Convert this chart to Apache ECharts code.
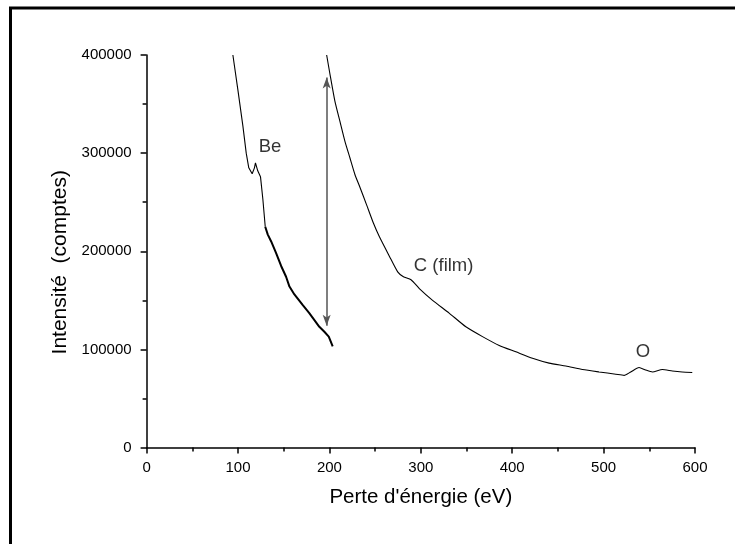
<!DOCTYPE html>
<html>
<head>
<meta charset="utf-8">
<script src="https://cdn.jsdelivr.net/npm/echarts@6/dist/echarts.min.js"></script>
<style>html,body{margin:0;padding:0;background:#fff}#c{width:735px;height:544px}</style>
</head>
<body>
<div id="c"></div>
<script>
// Energy loss (eV) and intensity (counts)
var beUpperX = [94.4, 99.8, 105.3, 109, 111.8, 115.5, 118, 119.1, 121.6, 124.6, 127.2, 129.8];
var beUpperY = [400000, 365000, 328000, 300000, 285000, 279000, 285000, 290000, 282000, 276000, 253000, 225000];
var beLowerX = [129.8, 132.6, 136.3, 141.7, 147.2, 152.6, 156.3, 161.7, 170.9, 178, 189, 194.5, 199.3, 203.6];
var beLowerY = [225000, 217000, 210000, 198000, 185000, 174000, 164000, 156000, 145000, 137000, 123000, 118000, 113000, 103000];
var cX = [197, 200.7, 206, 211.6, 217, 222.5, 228, 233.5, 240.8, 248, 254.6, 265.6, 274.7, 281, 289.3, 298.4, 312.9, 331, 349.3, 367.5, 385.8, 404, 422.2, 440.4, 458.7, 476.9, 495, 513.3, 522.4, 529.7, 538.8, 546, 553.4, 564.3, 575.2, 586, 597];
var cY = [400000, 380000, 353000, 332000, 312000, 295000, 278000, 265000, 247000, 229000, 215000, 195000, 179000, 174000, 171000, 162000, 150000, 137000, 123000, 113000, 104000, 97500, 91000, 86000, 83000, 79500, 77000, 74700, 73500, 77000, 81500, 79000, 77000, 79500, 78000, 77000, 76500];
var arrowX = 197;
var arrowY = [124000, 377000];
var labelText = ["Be", "C (film)", "O"];
var labelX = [135, 325, 543];
var labelY = [306000, 185000, 97000];
var xTitle = "Perte d'énergie (eV)";
var yTitle = "Intensité  (comptes)";

function zip(a, b) { return a.map(function (v, i) { return [v, b[i]]; }); }

var chart = echarts.init(document.getElementById('c'), null, {renderer: 'canvas'});
var font = '"Liberation Sans", Arial, sans-serif';
chart.setOption({
  animation: false,
  backgroundColor: '#fff',
  grid: {left: 146.6, right: 40, top: 55, bottom: 96.5, containLabel: false},
  xAxis: {
    type: 'value', min: 0, max: 600, interval: 100,
    name: xTitle, nameLocation: 'middle', nameGap: 39,
    nameTextStyle: {fontFamily: font, fontSize: 20.5, color: '#000'},
    axisLine: {show: true, onZero: false, lineStyle: {color: '#000', width: 1.5}},
    axisTick: {show: true, inside: false, length: 6, lineStyle: {color: '#000', width: 1.5}},
    minorTick: {show: true, splitNumber: 2, length: 4, lineStyle: {color: '#000', width: 1.5}},
    axisLabel: {fontFamily: font, fontSize: 15, color: '#000', margin: 13,
                formatter: function (v) { return String(v); }},
    splitLine: {show: false}
  },
  yAxis: {
    type: 'value', min: 0, max: 400000, interval: 100000,
    name: yTitle, nameLocation: 'middle', nameGap: 75,
    nameTextStyle: {fontFamily: font, fontSize: 21, color: '#000', padding: [0, 22, 0, 0]},
    axisLine: {show: true, onZero: false, lineStyle: {color: '#000', width: 1.5}},
    axisTick: {show: true, inside: false, length: 6, lineStyle: {color: '#000', width: 1.5}},
    minorTick: {show: true, splitNumber: 2, length: 4, lineStyle: {color: '#000', width: 1.5}},
    axisLabel: {fontFamily: font, fontSize: 15, color: '#000', margin: 15,
                formatter: function (v) { return String(v); }},
    splitLine: {show: false}
  },
  graphic: [{
    type: 'rect', shape: {x: 10.5, y: 8, width: 900, height: 900},
    style: {fill: 'none', stroke: '#000', lineWidth: 3}, silent: true
  }],
  series: [
    {type: 'line', data: zip(beUpperX, beUpperY), showSymbol: false, clip: true,
     lineStyle: {color: '#000', width: 1.1}},
    {type: 'line', data: zip(beLowerX, beLowerY), showSymbol: false, clip: true,
     lineStyle: {color: '#000', width: 2}},
    {type: 'line', data: zip(cX, cY), showSymbol: false, clip: true, smooth: 0.2,
     lineStyle: {color: '#000', width: 1.1},
     markLine: {
       silent: true, symbol: ['arrow', 'arrow'], symbolSize: [6, 11], label: {show: false},
       lineStyle: {color: '#555', width: 1.5, type: 'solid'},
       data: [[{coord: [arrowX, arrowY[0]]}, {coord: [arrowX, arrowY[1]]}]]
     }},
    {type: 'scatter', symbolSize: 0,
     data: labelText.map(function (t, i) { return [labelX[i], labelY[i], t]; }),
     label: {show: true, position: 'inside', formatter: function (p) { return p.value[2]; },
             fontFamily: font, fontSize: 18.5, color: '#000'}}
  ]
});
</script>
</body>
</html>
